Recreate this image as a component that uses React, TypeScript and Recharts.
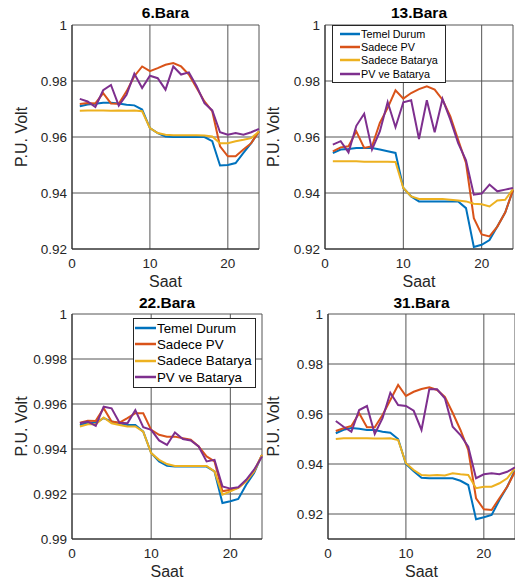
import React from "react";
import { CartesianGrid, Line, LineChart, XAxis, YAxis } from "recharts";

const hours = [1, 2, 3, 4, 5, 6, 7, 8, 9, 10, 11, 12, 13, 14, 15, 16, 17, 18, 19, 20, 21, 22, 23, 24];

const seriesNames = ["Temel Durum", "Sadece PV", "Sadece Batarya", "PV ve Batarya"];
const seriesColors = ["#0072BD", "#D95319", "#EDB120", "#7E2F8E"];

// 6.Bara
const bara6Temel = [0.971, 0.9716, 0.9719, 0.9722, 0.9722, 0.972, 0.9715, 0.9713, 0.9698, 0.9632, 0.9614, 0.9602, 0.96, 0.96, 0.96, 0.96, 0.96, 0.9585, 0.9498, 0.95, 0.9507, 0.9543, 0.9578, 0.962];
const bara6PV = [0.9718, 0.9721, 0.972, 0.9757, 0.972, 0.9719, 0.9763, 0.9817, 0.9852, 0.9835, 0.9846, 0.9858, 0.9864, 0.9852, 0.9823, 0.9775, 0.9727, 0.9692, 0.9567, 0.9531, 0.9531, 0.9555, 0.9578, 0.962];
const bara6Bat = [0.9694, 0.9695, 0.9695, 0.9695, 0.9694, 0.9695, 0.9694, 0.9695, 0.9692, 0.9632, 0.9614, 0.9608, 0.9606, 0.9606, 0.9606, 0.9606, 0.9605, 0.9602, 0.9578, 0.9578, 0.9585, 0.959, 0.9596, 0.962];
const bara6PVBat = [0.9736, 0.9727, 0.9707, 0.9767, 0.9786, 0.9712, 0.9751, 0.9826, 0.9775, 0.9819, 0.981, 0.9769, 0.9852, 0.9823, 0.9831, 0.9781, 0.9721, 0.9695, 0.9617, 0.9608, 0.9614, 0.9608, 0.9617, 0.9629];

// 13.Bara
const bara13Temel = [0.9543, 0.9555, 0.9557, 0.9561, 0.9561, 0.9561, 0.9555, 0.9549, 0.9543, 0.9418, 0.9388, 0.937, 0.937, 0.937, 0.937, 0.937, 0.937, 0.9346, 0.9207, 0.9215, 0.9232, 0.928, 0.933, 0.941];
const bara13PV = [0.9549, 0.9563, 0.9567, 0.962, 0.9561, 0.9567, 0.965, 0.9704, 0.9767, 0.9737, 0.9757, 0.9771, 0.9781, 0.9769, 0.9733, 0.9674, 0.959, 0.9507, 0.931, 0.9252, 0.9245, 0.928, 0.933, 0.941];
const bara13Bat = [0.9513, 0.9513, 0.9513, 0.9513, 0.9512, 0.9512, 0.9512, 0.9512, 0.9511, 0.9418, 0.9388, 0.9379, 0.9379, 0.9379, 0.9379, 0.9376, 0.9373, 0.937, 0.9362, 0.936, 0.9352, 0.9373, 0.9376, 0.9414];
const bara13PVBat = [0.9573, 0.9585, 0.9545, 0.964, 0.9683, 0.9555, 0.962, 0.9725, 0.9635, 0.9724, 0.9731, 0.9593, 0.9731, 0.9617, 0.9736, 0.9662, 0.9578, 0.9517, 0.9394, 0.9398, 0.943, 0.9406, 0.9412, 0.9418];

// 22.Bara
const bara22Temel = [0.99507, 0.99517, 0.99517, 0.99537, 0.99522, 0.99514, 0.99507, 0.99507, 0.99477, 0.99382, 0.99345, 0.99325, 0.99322, 0.99322, 0.99322, 0.99322, 0.99322, 0.993, 0.9916, 0.99168, 0.99178, 0.99241, 0.99293, 0.99374];
const bara22PV = [0.99517, 0.99526, 0.99525, 0.99581, 0.99522, 0.99517, 0.99537, 0.99559, 0.99559, 0.99485, 0.99463, 0.99455, 0.99455, 0.99448, 0.99441, 0.99411, 0.99367, 0.99345, 0.99212, 0.99219, 0.99227, 0.99256, 0.993, 0.99374];
const bara22Bat = [0.995, 0.9951, 0.9951, 0.9954, 0.99514, 0.99507, 0.995, 0.995, 0.99477, 0.99382, 0.99352, 0.99333, 0.99325, 0.99325, 0.99325, 0.99325, 0.99325, 0.993, 0.99197, 0.99212, 0.99227, 0.99256, 0.993, 0.99374];
const bara22PVBat = [0.99514, 0.99522, 0.99503, 0.99588, 0.99581, 0.99517, 0.99514, 0.99573, 0.99497, 0.99485, 0.99438, 0.99418, 0.99473, 0.99444, 0.99438, 0.99411, 0.99345, 0.99352, 0.99234, 0.99224, 0.9923, 0.99263, 0.99308, 0.99367];

// 31.Bara
const bara31Temel = [0.9523, 0.9537, 0.9544, 0.9541, 0.9536, 0.9536, 0.9529, 0.9525, 0.95, 0.94, 0.9371, 0.9345, 0.9343, 0.9343, 0.9343, 0.9343, 0.9333, 0.9316, 0.9179, 0.9187, 0.9196, 0.9256, 0.9309, 0.9376];
const bara31PV = [0.9532, 0.9543, 0.9552, 0.9603, 0.9547, 0.9547, 0.9596, 0.9656, 0.9716, 0.9672, 0.9689, 0.97, 0.9707, 0.9696, 0.9669, 0.9605, 0.9536, 0.9456, 0.9263, 0.9219, 0.9216, 0.9263, 0.9309, 0.9369];
const bara31Bat = [0.95, 0.9503, 0.9503, 0.9503, 0.9503, 0.9502, 0.9502, 0.9503, 0.9496, 0.9403, 0.9376, 0.9356, 0.9354, 0.9356, 0.9354, 0.9363, 0.9359, 0.9356, 0.9303, 0.9309, 0.9309, 0.9323, 0.9343, 0.9383];
const bara31PVBat = [0.9572, 0.9549, 0.9529, 0.9616, 0.9632, 0.952, 0.9583, 0.9685, 0.9636, 0.9632, 0.9613, 0.9536, 0.9699, 0.9699, 0.9663, 0.9549, 0.9516, 0.9469, 0.9343, 0.9359, 0.9363, 0.9359, 0.9369, 0.9387];

const yTicksWide = [0.92, 0.94, 0.96, 0.98, 1];
const yTicksNarrow = [0.99, 0.992, 0.994, 0.996, 0.998, 1];
const xTicks = [0, 10, 20];

const FONT = "Arial, 'Liberation Sans', Helvetica, sans-serif";
const KEYS = ["temel", "pv", "bat", "pvbat"];

function buildRows(a: number[], b: number[], c: number[], d: number[]) {
  return hours.map((h, i) => ({ saat: h, temel: a[i], pv: b[i], bat: c[i], pvbat: d[i] }));
}

function fmt(v: number) {
  return String(Number(v.toFixed(3)));
}

type LegendBox = {
  left: number;
  top: number;
  width: number;
  rowH: number;
  fontSize: number;
  lineStart: number;
  lineLen: number;
};

// legend drawn over the plot, like the MATLAB one (does not take space from the plot)
function LegendOverlay({ box }: { box: LegendBox }) {
  const sw = box.lineStart + box.lineLen + 1;
  return (
    <div
      style={{
        position: "absolute",
        left: box.left,
        top: box.top,
        width: box.width,
        border: "1px solid #262626",
        background: "#fff",
        padding: "1px 0 2px 0",
        fontFamily: FONT,
        fontSize: box.fontSize,
        color: "#000",
        boxSizing: "border-box",
      }}
    >
      {seriesNames.map((n, i) => (
        <div key={n} style={{ display: "flex", alignItems: "center", height: box.rowH }}>
          <svg width={sw} height={4} style={{ flex: "none" }}>
            <line
              x1={box.lineStart}
              x2={box.lineStart + box.lineLen}
              y1={2}
              y2={2}
              stroke={seriesColors[i]}
              strokeWidth={2.5}
            />
          </svg>
          <span style={{ whiteSpace: "nowrap" }}>{n}</span>
        </div>
      ))}
    </div>
  );
}

type PanelProps = {
  title: string;
  left: number;
  top: number;
  width: number;
  height: number;
  yAxisWidth: number;
  marginRight: number;
  plotTop: number;
  xAxisHeight: number;
  xLabelOffset: number;
  yLabelOffset: number;
  domain: [number, number];
  yTicks: number[];
  rows: Record<string, number>[];
  legend?: LegendBox;
};

function Panel(p: PanelProps) {
  return (
    <div style={{ position: "absolute", left: p.left, top: p.top, width: p.width, height: p.height }}>
      <div
        style={{
          position: "absolute",
          left: p.yAxisWidth,
          width: p.width - p.yAxisWidth - p.marginRight,
          top: 4,
          textAlign: "center",
          fontFamily: FONT,
          fontWeight: "bold",
          fontSize: 15.5,
          lineHeight: "18px",
          color: "#000",
        }}
      >
        {p.title}
      </div>
      <LineChart
        width={p.width}
        height={p.height}
        data={p.rows}
        margin={{ top: p.plotTop, right: p.marginRight, left: 0, bottom: 0 }}
        style={{ fontFamily: FONT }}
      >
        <CartesianGrid stroke="#555" strokeWidth={1} />
        <XAxis
          dataKey="saat"
          type="number"
          domain={[0, 24]}
          ticks={xTicks}
          height={p.xAxisHeight}
          tickSize={0}
          tickMargin={9}
          tickLine={false}
          axisLine={{ stroke: "#262626" }}
          tick={{ fontSize: 13.5, fill: "#262626" }}
          label={{ value: "Saat", position: "insideBottom", offset: p.xLabelOffset, fontSize: 16, fill: "#262626" }}
        />
        <YAxis
          type="number"
          domain={p.domain}
          ticks={p.yTicks}
          width={p.yAxisWidth}
          tickSize={0}
          tickMargin={5}
          tickLine={false}
          allowDataOverflow
          axisLine={{ stroke: "#262626" }}
          tickFormatter={fmt}
          tick={{ fontSize: 13.5, fill: "#262626" }}
          label={{
            value: "P.U. Volt",
            angle: -90,
            position: "insideLeft",
            offset: p.yLabelOffset,
            fontSize: 16,
            fill: "#262626",
            style: { textAnchor: "middle" },
          }}
        />
        {KEYS.map((k, i) => (
          <Line
            key={k}
            dataKey={k}
            name={seriesNames[i]}
            type="linear"
            stroke={seriesColors[i]}
            strokeWidth={2}
            dot={false}
            activeDot={false}
            isAnimationActive={false}
          />
        ))}
      </LineChart>
      {p.legend && <LegendOverlay box={p.legend} />}
    </div>
  );
}

export default function App() {
  return (
    <div style={{ position: "absolute", left: 0, top: 0, width: 515, height: 583, background: "#fff" }}>
      <Panel
        title="6.Bara"
        left={0}
        top={0}
        width={262}
        height={290}
        yAxisWidth={72}
        marginRight={3}
        plotTop={25}
        xAxisHeight={41}
        xLabelOffset={3}
        yLabelOffset={21}
        domain={[0.92, 1]}
        yTicks={yTicksWide}
        rows={buildRows(bara6Temel, bara6PV, bara6Bat, bara6PVBat)}
      />
      <Panel
        title="13.Bara"
        left={250}
        top={0}
        width={265}
        height={290}
        yAxisWidth={75}
        marginRight={2}
        plotTop={25}
        xAxisHeight={41}
        xLabelOffset={3}
        yLabelOffset={23}
        domain={[0.92, 1]}
        yTicks={yTicksWide}
        rows={buildRows(bara13Temel, bara13PV, bara13Bat, bara13PVBat)}
        legend={{ left: 82, top: 25, width: 114, rowH: 13.3, fontSize: 10.8, lineStart: 7, lineLen: 20 }}
      />
      <Panel
        title="22.Bara"
        left={0}
        top={290}
        width={263}
        height={293}
        yAxisWidth={72}
        marginRight={1}
        plotTop={24}
        xAxisHeight={44}
        xLabelOffset={6}
        yLabelOffset={21}
        domain={[0.99, 1]}
        yTicks={yTicksNarrow}
        rows={buildRows(bara22Temel, bara22PV, bara22Bat, bara22PVBat)}
        legend={{ left: 133, top: 28, width: 123, rowH: 16.3, fontSize: 13.3, lineStart: 1, lineLen: 21 }}
      />
      <Panel
        title="31.Bara"
        left={250}
        top={290}
        width={265}
        height={293}
        yAxisWidth={78}
        marginRight={0}
        plotTop={24}
        xAxisHeight={44}
        xLabelOffset={6}
        yLabelOffset={23}
        domain={[0.91, 1]}
        yTicks={yTicksWide}
        rows={buildRows(bara31Temel, bara31PV, bara31Bat, bara31PVBat)}
      />
    </div>
  );
}
